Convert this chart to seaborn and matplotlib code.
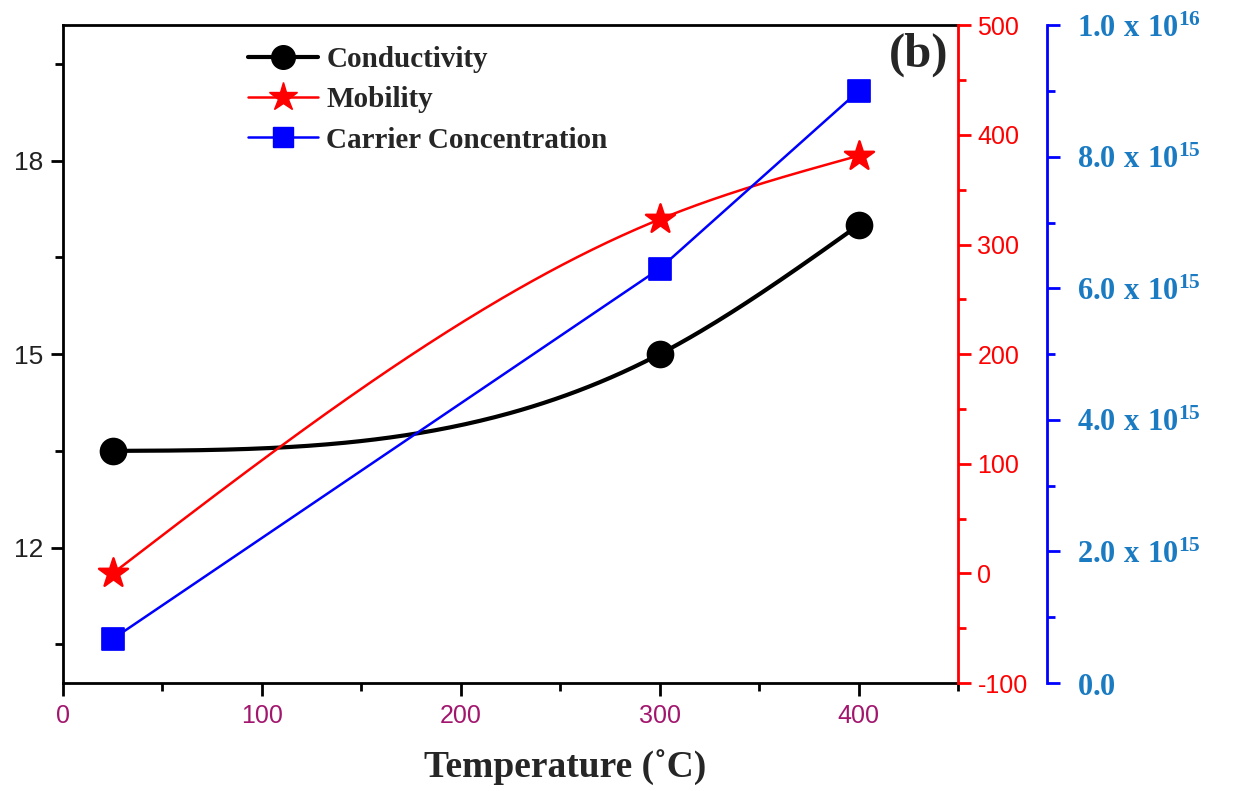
import numpy as np
import matplotlib
matplotlib.use("Agg")
import matplotlib.pyplot as plt
import seaborn as sns
from matplotlib.lines import Line2D
from matplotlib.ticker import MultipleLocator, FuncFormatter

# data
temperature = [25, 300, 400]
conductivity = [13.5, 15.0, 17.0]
mobility = [0, 323, 381]
carrier = [0.67e15, 6.3e15, 9.0e15]


def natural_spline(x, y, n=200):
    # natural cubic spline through the points, used only to draw the smooth line
    x = np.asarray(x, float)
    y = np.asarray(y, float)
    k = len(x)
    h = np.diff(x)
    A = np.zeros((k, k))
    r = np.zeros(k)
    A[0, 0] = A[-1, -1] = 1
    for i in range(1, k - 1):
        A[i, i - 1] = h[i - 1]
        A[i, i] = 2 * (h[i - 1] + h[i])
        A[i, i + 1] = h[i]
        r[i] = 6 * ((y[i + 1] - y[i]) / h[i] - (y[i] - y[i - 1]) / h[i - 1])
    M = np.linalg.solve(A, r)
    xs = np.linspace(x[0], x[-1], n)
    ys = np.empty_like(xs)
    for j, xv in enumerate(xs):
        i = min(np.searchsorted(x, xv, side="right") - 1, k - 2)
        a = x[i + 1] - xv
        b = xv - x[i]
        ys[j] = (M[i] * a**3 + M[i + 1] * b**3) / (6 * h[i]) \
            + (y[i] / h[i] - M[i] * h[i] / 6) * a \
            + (y[i + 1] / h[i] - M[i + 1] * h[i] / 6) * b
    return xs, ys


sns.set_style("white")
plt.rcParams["font.family"] = ["Liberation Sans", "DejaVu Sans"]
plt.rcParams["axes.unicode_minus"] = False
plt.rcParams["mathtext.fontset"] = "custom"
plt.rcParams["mathtext.rm"] = "Liberation Serif:bold"
plt.rcParams["mathtext.bf"] = "Liberation Serif:bold"
plt.rcParams["mathtext.it"] = "Liberation Serif:bold"

fig = plt.figure(figsize=(12.35, 7.91), dpi=100)
ax = fig.add_axes([0.051, 0.1365, 0.7247, 0.8315])
ax2 = ax.twinx()
ax3 = ax.twinx()
ax3.spines["right"].set_position(("outward", 64))

red = "#ff0000"
blue = "#0000ff"
lblue = "#1a7bc2"
purple = "#a3166e"

# conductivity
xs, ys = natural_spline(temperature, conductivity)
sns.lineplot(x=xs, y=ys, ax=ax, color="black", lw=3, sort=False)
sns.scatterplot(x=temperature, y=conductivity, ax=ax, color="black",
                marker="o", s=340, edgecolor="black", zorder=5)

# mobility
xs, ys = natural_spline(temperature, mobility)
sns.lineplot(x=xs, y=ys, ax=ax2, color=red, lw=1.8, sort=False)
sns.scatterplot(x=temperature, y=mobility, ax=ax2, color=red,
                marker="*", s=480, edgecolor=red, zorder=5)

# carrier concentration
sns.lineplot(x=temperature, y=carrier, ax=ax3, color=blue, lw=1.8)
sns.scatterplot(x=temperature, y=carrier, ax=ax3, color=blue,
                marker="s", s=240, edgecolor=blue, zorder=5)

ax.set_xlim(0, 450)
ax.set_ylim(9.9, 20.1)
ax2.set_ylim(-100, 500)
ax3.set_ylim(0, 1.0e16)

ax.xaxis.set_major_locator(MultipleLocator(100))
ax.xaxis.set_minor_locator(MultipleLocator(50))
ax.set_yticks([12, 15, 18])
ax.yaxis.set_minor_locator(MultipleLocator(1.5))
ax2.yaxis.set_major_locator(MultipleLocator(100))
ax2.yaxis.set_minor_locator(MultipleLocator(50))
ax3.yaxis.set_major_locator(MultipleLocator(2e15))
ax3.yaxis.set_minor_locator(MultipleLocator(1e15))


def conc_fmt(v, pos):
    if abs(v) < 1e10:
        return r"$\mathbf{0.0}$"
    if v < 0:
        return ""
    e = int(np.floor(np.log10(v) + 1e-9))
    m = v / 10**e
    return r"$\mathbf{%.1f\ x\ 10^{%d}}$" % (m, e)


ax3.yaxis.set_major_formatter(FuncFormatter(conc_fmt))

for a in (ax, ax2, ax3):
    for s in a.spines.values():
        s.set_visible(False)

for s in ("left", "bottom", "top"):
    ax.spines[s].set_visible(True)
    ax.spines[s].set_color("black")
    ax.spines[s].set_linewidth(2)
ax2.spines["right"].set_visible(True)
ax2.spines["right"].set_color(red)
ax2.spines["right"].set_linewidth(2)
ax3.spines["right"].set_visible(True)
ax3.spines["right"].set_color(blue)
ax3.spines["right"].set_linewidth(2)

ax.tick_params(axis="x", which="both", direction="out", bottom=True, width=2,
               colors="black", labelcolor=purple, labelsize=18, pad=6)
ax.tick_params(axis="x", which="major", length=9)
ax.tick_params(axis="x", which="minor", length=6)
ax.tick_params(axis="y", which="both", direction="out", left=True, width=2,
               colors="black", labelcolor="#222222", labelsize=19, pad=5)
ax.tick_params(axis="y", which="major", length=9)
ax.tick_params(axis="y", which="minor", length=6)
ax2.tick_params(axis="y", which="both", direction="out", right=True, width=2,
                colors=red, labelsize=18, pad=5)
ax2.tick_params(axis="y", which="major", length=9)
ax2.tick_params(axis="y", which="minor", length=6)
ax3.tick_params(axis="y", which="both", direction="out", right=True, width=2,
                colors=blue, labelcolor=lblue, labelsize=22, pad=13)
ax3.tick_params(axis="y", which="major", length=9)
ax3.tick_params(axis="y", which="minor", length=6)

ax.set_xlabel("Temperature (˚C)", fontsize=27, fontweight="bold",
              family="Liberation Serif")
ax.xaxis.set_label_coords(0.561, -0.1)
ax.set_ylabel("")
ax2.set_ylabel("")
ax3.set_ylabel("")

ax.text(0.956, 0.955, "(b)", transform=ax.transAxes, fontsize=35,
        fontweight="bold", family="Liberation Serif", ha="center", va="center")

handles = [
    Line2D([], [], color="black", lw=3, marker="o", markersize=17),
    Line2D([], [], color=red, lw=1.8, marker="*", markersize=21),
    Line2D([], [], color=blue, lw=1.8, marker="s", markersize=14),
]
labels = ["Conductivity", "Mobility", "Carrier Concentration"]
ax.legend(handles, labels, loc="upper left", bbox_to_anchor=(0.177, 1.008),
          frameon=False, handlelength=2.4, handletextpad=0.3, labelspacing=0.45,
          prop={"family": "Liberation Serif", "weight": "bold", "size": 21})
for a in (ax2, ax3):
    if a.get_legend():
        a.get_legend().remove()

fig.savefig("out.png", dpi=100, facecolor="white")
